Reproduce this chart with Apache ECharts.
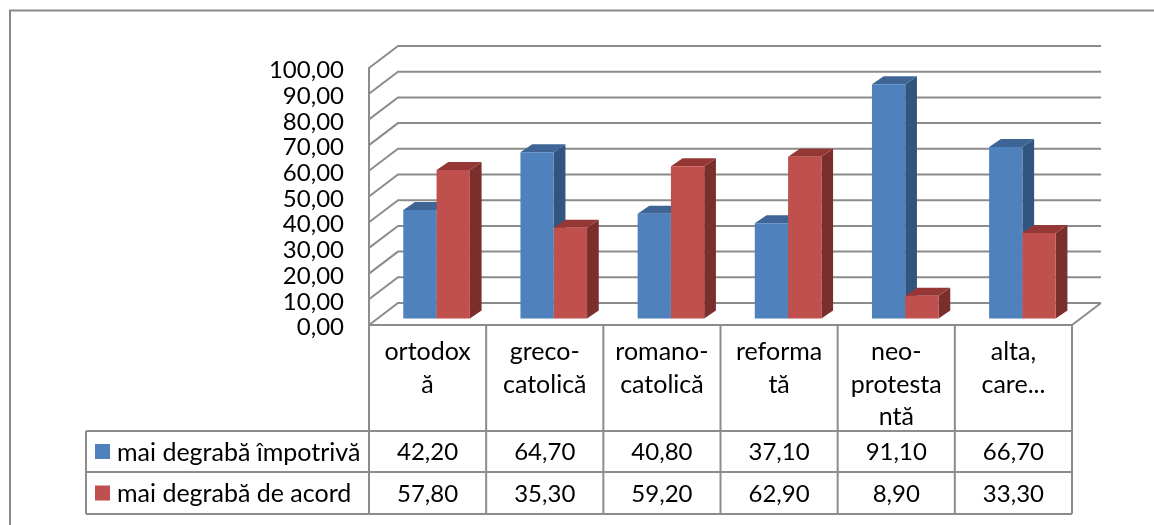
<!DOCTYPE html>
<html>
<head>
<meta charset="utf-8">
<style>
  html, body { margin: 0; padding: 0; background: #fff; }
  #chart { width: 1154px; height: 525px; }
</style>
<script src="https://cdn.jsdelivr.net/npm/echarts@6/dist/echarts.min.js"></script>
</head>
<body>
<div id="chart"></div>
<script>
const categories = ['ortodox\nă', 'greco-\ncatolică', 'romano-\ncatolică', 'reforma\ntă', 'neo-\nprotesta\nntă', 'alta,\ncare...'];
const seriesNames = ['mai degrabă împotrivă', 'mai degrabă de acord'];
const impotriva = [42.2, 64.7, 40.8, 37.1, 91.1, 66.7];
const deAcord = [57.8, 35.3, 59.2, 62.9, 8.9, 33.3];
const ticks = [0, 10, 20, 30, 40, 50, 60, 70, 80, 90, 100];

const gridColor = '#8c8c8c';
const font = 'Lato';
const fmt = (v) => v.toFixed(2).replace('.', ',');

// layout of the plot and data table
const plotL = 369;
const plotR = 1072;
const plotT = 68;
const plotB = 325;
const wallDx = 29; // depth of the 3d box
const wallDy = -22;
const tableL = 86;
const rowY = [431, 472, 514];
const barW = 33.3;
const barOffX = 9; // bars stand a bit inside the floor
const barOffY = -6.5;
const barDx = 11.7;
const barDy = -8;

const barColors = [
  { front: '#4f81bd', side: '#32557f', top: '#3e6596' },
  { front: '#c0504d', side: '#7b2f2d', top: '#953735' },
];

function poly(points, fill) {
  return { type: 'polygon', shape: { points }, style: { fill, stroke: 'none' } };
}

function renderBar(seriesIndex) {
  return (params, api) => {
    const catIdx = api.value(0);
    const [cx, y0] = api.coord([catIdx, 0]);
    const yTop = api.coord([catIdx, api.value(1)])[1];
    const l = cx + barOffX + (seriesIndex === 0 ? -barW : 0);
    const r = l + barW;
    const b = y0 + barOffY;
    const t = yTop + barOffY;
    const c = barColors[seriesIndex];
    return {
      type: 'group',
      children: [
        poly([[r, b], [r + barDx, b + barDy], [r + barDx, t + barDy], [r, t]], c.side),
        poly([[l, t], [r, t], [r + barDx, t + barDy], [l + barDx, t + barDy]], c.top),
        poly([[l, t], [r, t], [r, b], [l, b]], c.front),
      ],
    };
  };
}

function renderWall(params, api) {
  const y = api.coord([0, api.value(0)])[1];
  return {
    type: 'polyline',
    shape: { points: [[plotL, y], [plotL + wallDx, y + wallDy], [plotR + wallDx, y + wallDy]] },
    style: { fill: 'none', stroke: gridColor, lineWidth: 2 },
  };
}

function tableGraphics() {
  const els = [];
  const colW = (plotR - plotL) / categories.length;
  const line = (x1, y1, x2, y2) => els.push({
    type: 'line',
    shape: { x1, y1, x2, y2 },
    style: { stroke: gridColor, lineWidth: 2 },
    z: 5,
  });
  for (let i = 0; i <= categories.length; i++) {
    line(plotL + i * colW, plotB, plotL + i * colW, rowY[2]);
  }
  rowY.forEach((y) => line(tableL, y, plotR, y));
  line(tableL, rowY[0], tableL, rowY[2]);
  // floor edge on the right side
  line(plotR, plotB, plotR + wallDx, plotB + wallDy);

  [impotriva, deAcord].forEach((vals, r) => {
    const midY = (rowY[r] + rowY[r + 1]) / 2;
    els.push({
      type: 'rect',
      shape: { x: 95, y: midY - 7.5, width: 15, height: 15 },
      style: { fill: barColors[r].front },
      z: 5,
    });
    els.push({
      type: 'text',
      x: 117,
      y: midY + 1,
      style: { text: seriesNames[r], font: '25px ' + font, fill: '#000', verticalAlign: 'middle' },
      z: 5,
    });
    vals.forEach((v, i) => {
      els.push({
        type: 'text',
        x: plotL + (i + 0.5) * colW,
        y: midY + 1,
        style: { text: fmt(v), font: '24px ' + font, fill: '#000', align: 'center', verticalAlign: 'middle' },
        z: 5,
      });
    });
  });

  // frame of the chart area, only top and left are on the picture
  els.push({
    type: 'polyline',
    shape: { points: [[10, 525], [10, 10.5], [1154, 10.5]] },
    style: { fill: 'none', stroke: '#888', lineWidth: 2 },
    z: 1,
  });
  return els;
}

const chart = echarts.init(document.getElementById('chart'), null, { renderer: 'canvas' });
chart.setOption({
  animation: false,
  textStyle: { fontFamily: font },
  grid: { left: plotL, top: plotT, width: plotR - plotL, height: plotB - plotT, containLabel: false },
  xAxis: {
    type: 'category',
    data: categories,
    axisLine: { lineStyle: { color: gridColor, width: 2 } },
    axisTick: { show: false },
    axisLabel: {
      interval: 0,
      margin: 11,
      fontFamily: font,
      fontSize: 25,
      lineHeight: 32.5,
      color: '#000',
      verticalAlign: 'top',
    },
  },
  yAxis: {
    type: 'value',
    min: 0,
    max: 100,
    interval: 10,
    axisLine: { show: true, lineStyle: { color: gridColor, width: 2 } },
    axisTick: { show: false },
    splitLine: { show: false },
    axisLabel: {
      margin: 25,
      fontFamily: font,
      fontSize: 24,
      color: '#000',
      verticalAlign: 'top',
      lineHeight: 5,
      formatter: fmt,
    },
  },
  graphic: tableGraphics(),
  series: [
    {
      type: 'custom',
      name: 'walls',
      coordinateSystem: 'cartesian2d',
      renderItem: renderWall,
      encode: { y: 0 },
      data: ticks.map((t) => [t]),
      silent: true,
      z: 1,
    },
    {
      type: 'custom',
      name: seriesNames[0],
      renderItem: renderBar(0),
      encode: { x: 0, y: 1 },
      data: impotriva.map((v, i) => [i, v]),
      z: 2,
    },
    {
      type: 'custom',
      name: seriesNames[1],
      renderItem: renderBar(1),
      encode: { x: 0, y: 1 },
      data: deAcord.map((v, i) => [i, v]),
      z: 3,
    },
  ],
});
</script>
</body>
</html>
